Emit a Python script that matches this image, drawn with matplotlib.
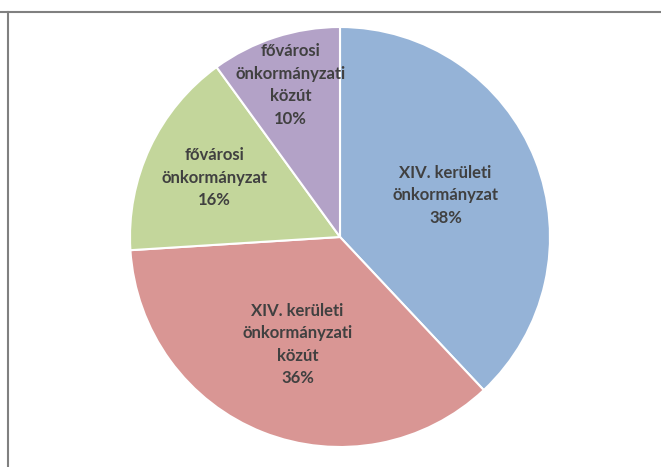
import numpy as np
import matplotlib.pyplot as plt
from matplotlib.lines import Line2D

labels = ['XIV. kerületi\nönkormányzat', 'XIV. kerületi\nönkormányzati\nközút',
          'fővárosi\nönkormányzat', 'fővárosi\nönkormányzati\nközút']
values = [38, 36, 16, 10]
colors = ['#95b3d7', '#d99694', '#c3d69b', '#b3a2c7']
label_dist = [0.54, 0.55, 0.66, 0.76]

W, H = 661, 467
fig = plt.figure(figsize=(W / 100, H / 100), dpi=100)
cx, cy, r = 340, 237, 210
ax = fig.add_axes([(cx - r) / W, (H - cy - r) / H, 2 * r / W, 2 * r / H])

wedges, _ = ax.pie(values, colors=colors, startangle=90, counterclock=False,
                   radius=1, wedgeprops=dict(edgecolor='white', linewidth=1.5))
ax.set_xlim(-1, 1)
ax.set_ylim(-1, 1)
ax.set_aspect('equal')
ax.axis('off')

for w, lab, v, d in zip(wedges, labels, values, label_dist):
    ang = np.deg2rad((w.theta1 + w.theta2) / 2)
    ax.text(d * np.cos(ang), d * np.sin(ang), f'{lab}\n{v}%', ha='center', va='center',
            fontsize=12, fontweight='bold', color='#404040', family='Lato',
            linespacing=1.5)

# frame lines
fig.add_artist(Line2D([0, 1], [1 - 12 / H, 1 - 12 / H], color='#808080', lw=1.5))
fig.add_artist(Line2D([8 / W, 8 / W], [0, 1 - 12 / H], color='#808080', lw=1.5))

fig.savefig('out.png', dpi=100)
